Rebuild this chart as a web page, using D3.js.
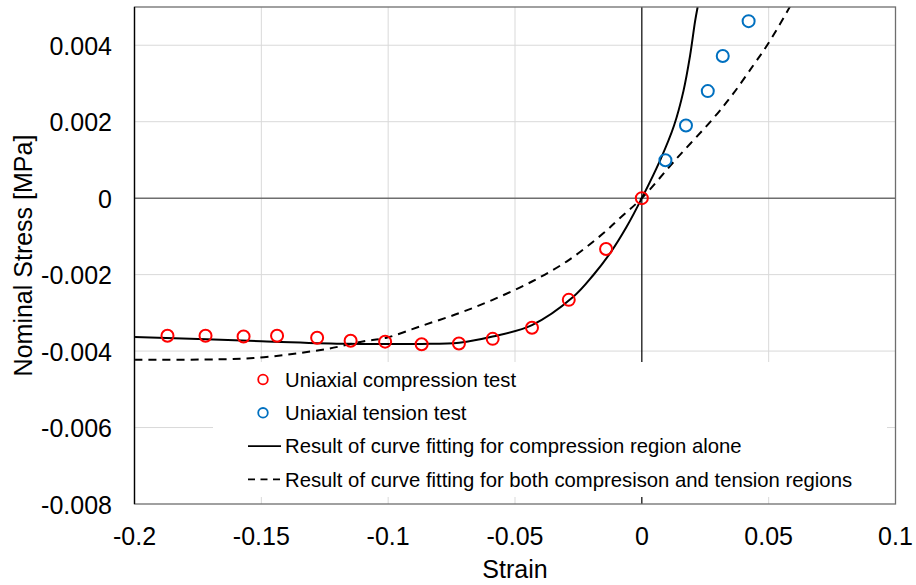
<!DOCTYPE html>
<html>
<head>
<meta charset="utf-8">
<script src="https://cdn.jsdelivr.net/npm/d3@7/dist/d3.min.js"></script>
<style>
    html, body { margin: 0; padding: 0; background: #fff; }
    svg text { font-family: "Liberation Sans", Arial, sans-serif; fill: #000; }
</style>
</head>
<body>
<svg id="chart" width="916" height="585"></svg>
<script>
// measured test points (strain, nominal stress in MPa)
var compStrain = [-0.187, -0.172, -0.157, -0.1438, -0.128, -0.1148, -0.1012, -0.0868, -0.0721, -0.0588, -0.0433, -0.0288, -0.0141, 0];
var compStress = [-0.0036, -0.0036, -0.00362, -0.0036, -0.00365, -0.00373, -0.003754, -0.00382, -0.0038, -0.00368, -0.00339, -0.00266, -0.00133, 0];

var tensStrain = [0.0093, 0.0174, 0.026, 0.0319, 0.0421];
var tensStress = [0.00099, 0.0019, 0.0028, 0.00372, 0.00463];

// fitted curves
var fitCompStrain = [-0.2, -0.15, -0.1166, -0.1012, -0.0867, -0.072, -0.0588, -0.0433, -0.027, -0.0191, -0.0125, -0.006, 0, 0.0072, 0.0127, 0.0164, 0.019, 0.021, 0.022];
var fitCompStress = [-0.00363, -0.00374, -0.00381, -0.003814, -0.003814, -0.00378, -0.00362, -0.00332, -0.00258, -0.00201, -0.00144, -0.00075, 0, 0.00099, 0.0019, 0.0028, 0.00372, 0.00463, 0.005];

var fitBothStrain = [-0.2, -0.163, -0.149, -0.136, -0.123, -0.11, -0.1006, -0.0868, -0.0721, -0.0588, -0.0433, -0.0288, -0.0152, -0.0086, 0, 0.0131, 0.0282, 0.0361, 0.044, 0.0499, 0.0584];
var fitBothStress = [-0.00423, -0.00421, -0.00416, -0.00406, -0.00393, -0.00375, -0.00365, -0.00334, -0.00301, -0.00266, -0.00218, -0.00162, -0.00092, -0.00052, 0, 0.00099, 0.00209, 0.00274, 0.00348, 0.00405, 0.00501];

var xTicks = [-0.2, -0.15, -0.1, -0.05, 0, 0.05, 0.1];
var xTickLabels = ['-0.2', '-0.15', '-0.1', '-0.05', '0', '0.05', '0.1'];
var yTicks = [0.004, 0.002, 0, -0.002, -0.004, -0.006, -0.008];
var yTickLabels = ['0.004', '0.002', '0', '-0.002', '-0.004', '-0.006', '-0.008'];

var legendLabels = [
    'Uniaxial compression test',
    'Uniaxial tension test',
    'Result of curve fitting for compression region alone',
    'Result of curve fitting for both compresison and tension regions'
];

var plot = {left: 134.5, right: 895.5, top: 7, bottom: 504};

var svg = d3.select('#chart');

var x = d3.scaleLinear().domain([-0.2, 0.1]).range([plot.left, plot.right]);
var y = d3.scaleLinear().domain([-0.008, 0.005]).range([plot.bottom, plot.top]);

function zip(xs, ys) {
    return xs.map(function(v, i) { return [v, ys[i]]; });
}

svg.append('defs').append('clipPath').attr('id', 'plotclip')
    .append('rect')
    .attr('x', plot.left).attr('y', plot.top)
    .attr('width', plot.right - plot.left).attr('height', plot.bottom - plot.top);

// gridlines
var grid = svg.append('g').attr('class', 'grid');
grid.selectAll('.vgrid').data(xTicks.filter(function(d) { return d > -0.2 && d < 0.1 && d !== 0; }))
    .enter().append('line')
    .attr('x1', function(d) { return x(d); }).attr('x2', function(d) { return x(d); })
    .attr('y1', plot.top).attr('y2', plot.bottom)
    .attr('stroke', '#d9d9d9').attr('stroke-width', 1);
grid.selectAll('.hgrid').data(yTicks.filter(function(d) { return d !== 0 && d > -0.008; }))
    .enter().append('line')
    .attr('x1', plot.left).attr('x2', plot.right)
    .attr('y1', function(d) { return y(d); }).attr('y2', function(d) { return y(d); })
    .attr('stroke', '#d9d9d9').attr('stroke-width', 1);

// zero lines
svg.append('line')
    .attr('x1', plot.left).attr('x2', plot.right)
    .attr('y1', y(0)).attr('y2', y(0))
    .attr('stroke', '#6e6e6e').attr('stroke-width', 1.5);
svg.append('line')
    .attr('x1', x(0)).attr('x2', x(0))
    .attr('y1', plot.top).attr('y2', plot.bottom)
    .attr('stroke', '#000').attr('stroke-width', 1.2);

// fitted curves
var line = d3.line()
    .x(function(d) { return x(d[0]); })
    .y(function(d) { return y(d[1]); })
    .curve(d3.curveCatmullRom.alpha(0.5));

var curves = svg.append('g').attr('clip-path', 'url(#plotclip)');
curves.append('path')
    .attr('d', line(zip(fitCompStrain, fitCompStress)))
    .attr('fill', 'none').attr('stroke', '#000').attr('stroke-width', 2);
curves.append('path')
    .attr('d', line(zip(fitBothStrain, fitBothStress)))
    .attr('fill', 'none').attr('stroke', '#000').attr('stroke-width', 2)
    .attr('stroke-dasharray', '8,6');

// test points
svg.append('g').selectAll('circle').data(zip(compStrain, compStress))
    .enter().append('circle')
    .attr('cx', function(d) { return x(d[0]); })
    .attr('cy', function(d) { return y(d[1]); })
    .attr('r', 6)
    .attr('fill', 'none').attr('stroke', '#ff0000').attr('stroke-width', 2);
svg.append('g').selectAll('circle').data(zip(tensStrain, tensStress))
    .enter().append('circle')
    .attr('cx', function(d) { return x(d[0]); })
    .attr('cy', function(d) { return y(d[1]); })
    .attr('r', 6)
    .attr('fill', 'none').attr('stroke', '#0070c0').attr('stroke-width', 2);

// plot frame
svg.append('rect')
    .attr('x', plot.left).attr('y', plot.top)
    .attr('width', plot.right - plot.left).attr('height', plot.bottom - plot.top)
    .attr('fill', 'none').attr('stroke', '#6e6e6e').attr('stroke-width', 1.3);
svg.append('line')
    .attr('x1', plot.left).attr('x2', plot.left)
    .attr('y1', plot.top).attr('y2', plot.bottom)
    .attr('stroke', '#000').attr('stroke-width', 1.3);

// tick labels
svg.append('g').selectAll('text').data(xTicks)
    .enter().append('text')
    .attr('x', function(d) { return x(d); })
    .attr('y', 545)
    .attr('text-anchor', 'middle')
    .style('font-size', '25px')
    .text(function(d, i) { return xTickLabels[i]; });
svg.append('g').selectAll('text').data(yTicks)
    .enter().append('text')
    .attr('x', 112)
    .attr('y', function(d) { return y(d) + 9.5; })
    .attr('text-anchor', 'end')
    .style('font-size', '25px')
    .text(function(d, i) { return yTickLabels[i]; });

// axis titles
svg.append('text')
    .attr('x', (plot.left + plot.right) / 2).attr('y', 578)
    .attr('text-anchor', 'middle')
    .style('font-size', '25px')
    .text('Strain');
svg.append('text')
    .attr('transform', 'translate(32,' + ((plot.top + plot.bottom) / 2) + ') rotate(-90)')
    .attr('text-anchor', 'middle')
    .style('font-size', '25px')
    .text('Nominal Stress [MPa]');

// legend, white box sits over the grid
var legend = svg.append('g').attr('class', 'legend');
legend.append('rect')
    .attr('x', 213).attr('y', 362)
    .attr('width', 674).attr('height', 135)
    .attr('fill', '#fff');

var rowY = function(i) { return 379.5 + i * 33.3; };

legend.append('circle').attr('cx', 263).attr('cy', rowY(0)).attr('r', 4.8)
    .attr('fill', 'none').attr('stroke', '#ff0000').attr('stroke-width', 1.8);
legend.append('circle').attr('cx', 263).attr('cy', rowY(1)).attr('r', 4.8)
    .attr('fill', 'none').attr('stroke', '#0070c0').attr('stroke-width', 1.8);
legend.append('line').attr('x1', 248).attr('x2', 281).attr('y1', rowY(2)).attr('y2', rowY(2))
    .attr('stroke', '#000').attr('stroke-width', 1.7);
legend.append('line').attr('x1', 248).attr('x2', 281).attr('y1', rowY(3)).attr('y2', rowY(3))
    .attr('stroke', '#000').attr('stroke-width', 1.7).attr('stroke-dasharray', '7,5.5');

legend.selectAll('text').data(legendLabels)
    .enter().append('text')
    .attr('x', 285)
    .attr('y', function(d, i) { return rowY(i) + 7.3; })
    .style('font-size', '20.3px')
    .text(function(d) { return d; });
</script>
</body>
</html>
